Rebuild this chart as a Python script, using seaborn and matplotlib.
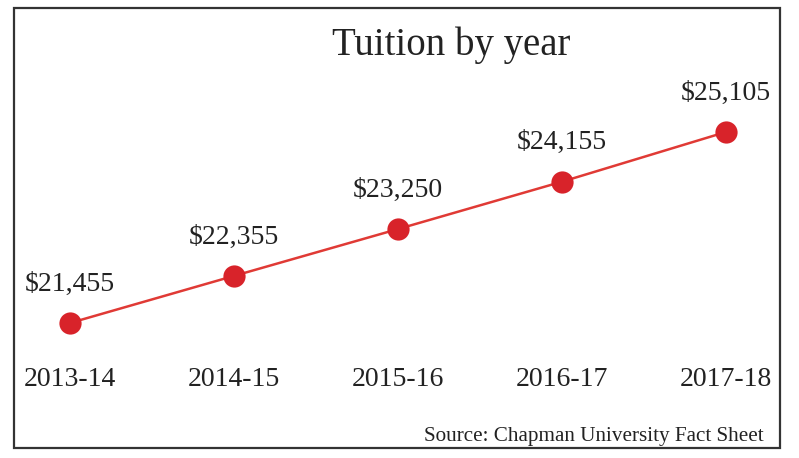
import matplotlib
matplotlib.use("Agg")
import matplotlib.pyplot as plt
from matplotlib.patches import Rectangle
import seaborn as sns
import pandas as pd

years = ["2013-14", "2014-15", "2015-16", "2016-17", "2017-18"]
tuition = [21455, 22355, 23250, 24155, 25105]
title = "Tuition by year"
source = "Source: Chapman University Fact Sheet"

sns.set_theme(style="white")
plt.rcParams["font.family"] = ["Liberation Serif", "DejaVu Serif"]

df = pd.DataFrame({"idx": range(len(years)), "year": years, "tuition": tuition})

fig = plt.figure(figsize=(7.99, 4.58), dpi=100)
ax = fig.add_axes([0, 0, 1, 1])
red = "#d8232a"
sns.lineplot(data=df, x="idx", y="tuition", ax=ax, color="#e03a35", linewidth=1.8,
             marker="o", markersize=16, markerfacecolor=red, markeredgecolor=red,
             markeredgewidth=0)

ax.set_xlim(-0.4268, 4.445)
ax.set_ylim(18875, 27627)
ax.axis("off")

for i, v in enumerate(tuition):
    ax.annotate(f"${v:,}", (i, v), xytext=(0, 28), textcoords="offset points",
                ha="center", va="center", fontsize=20, color="#222222")

trans = ax.get_xaxis_transform()
for i, y in enumerate(years):
    ax.text(i, 1 - 379 / 458, y, transform=trans, ha="center", va="center",
            fontsize=20, color="#222222")

fig.text(451 / 799, 1 - 45 / 458, title, ha="center", va="center", fontsize=28,
         color="#222222")
fig.text(764 / 799, 1 - 437 / 458, source, ha="right", va="center", fontsize=15.2,
         color="#222222")

fig.patches.append(Rectangle((14 / 799, 10 / 458), 766 / 799, 440 / 458,
                             transform=fig.transFigure, fill=False,
                             edgecolor="#333333", linewidth=1.6))

fig.savefig("out.png", dpi=100)
